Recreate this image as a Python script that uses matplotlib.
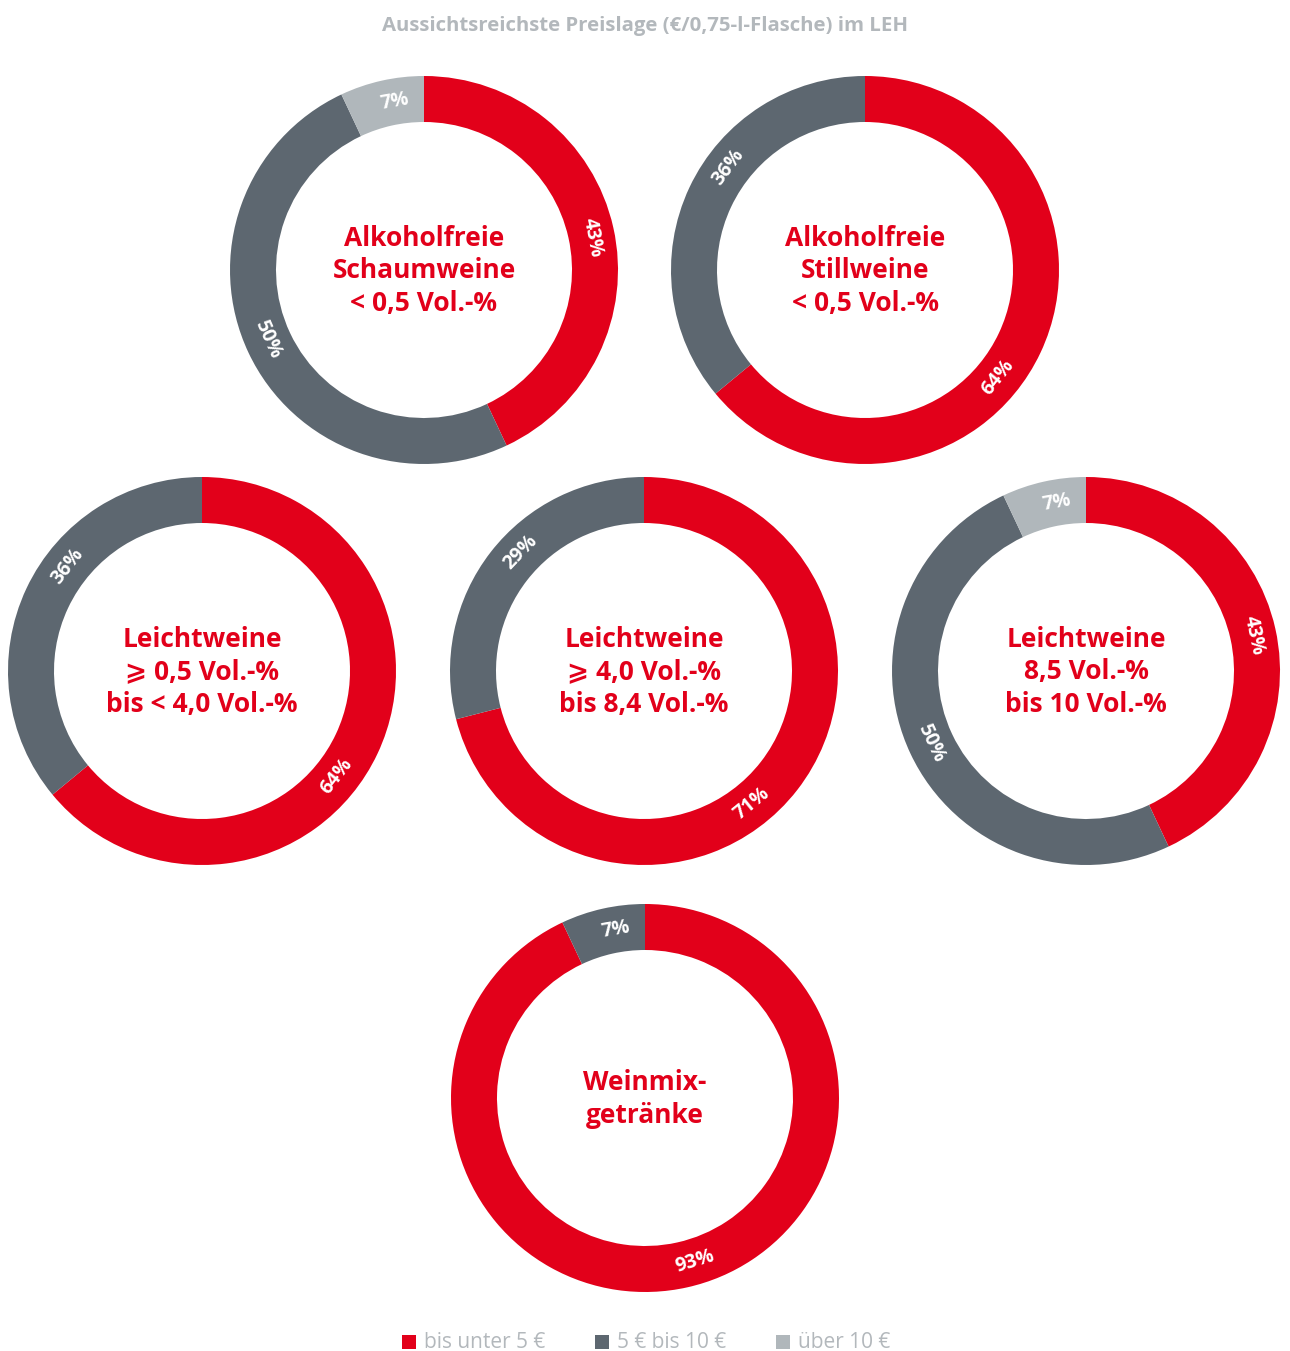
import matplotlib.pyplot as plt
import numpy as np

# Price-range shares per wine category
titles = ['Alkoholfreie\nSchaumweine\n< 0,5 Vol.-%',
          'Alkoholfreie\nStillweine\n< 0,5 Vol.-%',
          'Leichtweine\n⩾ 0,5 Vol.-%\nbis < 4,0 Vol.-%',
          'Leichtweine\n⩾ 4,0 Vol.-%\nbis 8,4 Vol.-%',
          'Leichtweine\n8,5 Vol.-%\nbis 10 Vol.-%',
          'Weinmix-\ngetränke']
under5 = [43, 64, 64, 71, 43, 93]
from5to10 = [50, 36, 36, 29, 50, 7]
over10 = [7, 0, 0, 0, 7, 0]

legend_labels = ['bis unter 5 €', '5 € bis 10 €', 'über 10 €']
colors = ['#E2001A', '#5D6770', '#B0B7BB']
TXT_GRAY = '#B3B8BC'

# --- layout (pixels, y from top) ---
centers = [(424, 270), (865, 270), (202, 671), (644, 671), (1086, 671), (645, 1098)]
R = 194
W = 46
# where each percentage sits on its ring, degrees clockwise from 12 o'clock
label_pos = [[79, 246, 350], [129, 307], [128, 308], [141, 314],
             [78, 245, 350], [163, 350]]

FW, FH = 1290, 1351
fig = plt.figure(figsize=(FW / 100, FH / 100), dpi=100)
ax = fig.add_axes([0, 0, 1, 1])
fam = ['Open Sans', 'DejaVu Sans']

for i, (cx, cy) in enumerate(centers):
    vals = [under5[i], from5to10[i], over10[i]]
    vals_nz = [v for v in vals if v > 0]
    cols = [c for v, c in zip(vals, colors) if v > 0]
    yc = FH - cy
    ax.pie(vals_nz, colors=cols, startangle=90, counterclock=False,
           center=(cx, yc), radius=R, wedgeprops=dict(width=W, linewidth=0))
    # percentage labels along the ring
    for v, pos in zip(vals_nz, label_pos[i]):
        mid = 90 - pos
        rot = (mid - 90 + 180) % 360 - 180
        if rot > 90:
            rot -= 180
        elif rot <= -90:
            rot += 180
        r_lab = R - W / 2
        x = cx + r_lab * np.cos(np.radians(mid))
        y = yc + r_lab * np.sin(np.radians(mid))
        ax.text(x, y, '%d%%' % v, color='white', fontsize=14, fontweight='bold',
                rotation=rot, rotation_mode='anchor', ha='center', va='center',
                family=fam)
    ax.text(cx, yc - 1, titles[i], color=colors[0], fontsize=19, fontweight='bold',
            ha='center', va='center', linespacing=1.25, family=fam)

ax.text(FW / 2, FH - 26, 'Aussichtsreichste Preislage (€/0,75-l-Flasche) im LEH',
        color=TXT_GRAY, fontsize=14.7, fontweight='bold', ha='center', va='center',
        family=fam)

# legend
leg_x = [402, 595, 776]
for lx, lab, c in zip(leg_x, legend_labels, colors):
    ax.add_patch(plt.Rectangle((lx, FH - 1349), 14, 14, color=c, lw=0))
    ax.text(lx + 22, FH - 1342, lab, color=TXT_GRAY, fontsize=15,
            ha='left', va='center', family=fam)

ax.set_xlim(0, FW)
ax.set_ylim(0, FH)
ax.set_aspect('equal')
ax.axis('off')

fig.savefig('out.png', dpi=100)
